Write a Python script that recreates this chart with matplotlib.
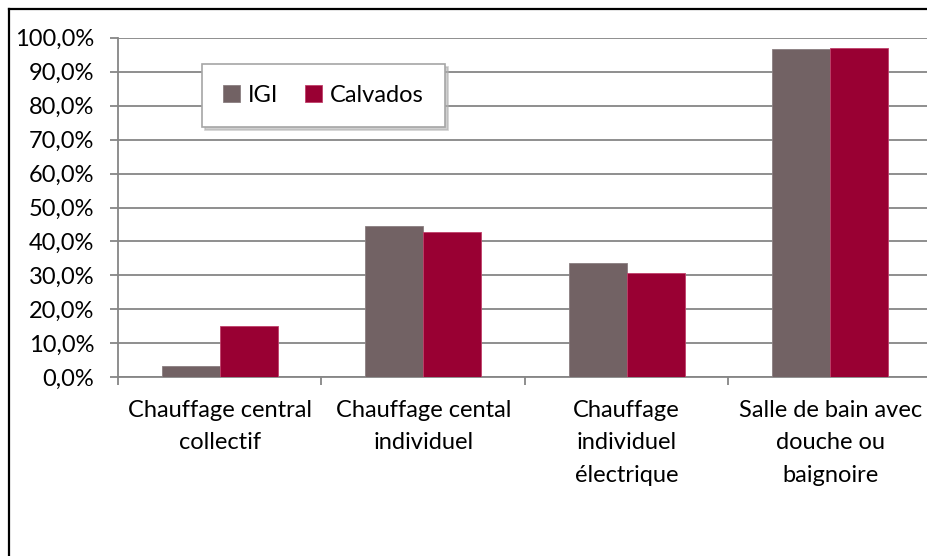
import matplotlib
matplotlib.use("Agg")
import matplotlib.pyplot as plt
from matplotlib.lines import Line2D
from matplotlib.ticker import FixedLocator, FuncFormatter
import numpy as np

categories = ["Chauffage central\ncollectif", "Chauffage cental\nindividuel",
              "Chauffage\nindividuel\nélectrique", "Salle de bain avec\ndouche ou\nbaignoire"]
igi = [3.4, 44.6, 33.7, 96.6]
calvados = [15.2, 42.9, 30.6, 96.9]
series_names = ["IGI", "Calvados"]
yticks = [0, 10, 20, 30, 40, 50, 60, 70, 80, 90, 100]

plt.rcParams['font.family'] = ['Lato', 'DejaVu Sans']

W, H = 928, 556
fig = plt.figure(figsize=(W / 100, H / 100), dpi=100)
fig.patch.set_facecolor("white")

def px(x0, y0, x1, y1):
    return [x0 / W, 1 - y1 / H, (x1 - x0) / W, (y1 - y0) / H]

ax = fig.add_axes(px(118, 37.7, 928, 377.3))
x = np.arange(len(categories))
bw = 0.285
grid_c = "#868686"
ax.bar(x - bw / 2, igi, bw, color="#726264", edgecolor="#8a7e80", linewidth=0.6,
       label=series_names[0], zorder=3)
ax.bar(x + bw / 2, calvados, bw, color="#990033", edgecolor="#c0406a", linewidth=0.6,
       label=series_names[1], zorder=3)

ax.set_xlim(-0.5, -0.5 + 810 / 203.5)
ax.set_ylim(0, 100)
ax.set_yticks(yticks)
ax.yaxis.set_major_formatter(FuncFormatter(lambda v, p: f"{v:.1f}%".replace(".", ",")))
ax.yaxis.grid(True, color=grid_c, linewidth=1.3, zorder=0)
ax.set_axisbelow(True)

fs = 17
ax.set_xticks(x)
ax.set_xticklabels(categories, fontsize=fs, linespacing=1.7, va="top")
ax.xaxis.set_minor_locator(FixedLocator(np.arange(-0.5, 3.6, 1.0)))
ax.tick_params(axis="x", which="major", length=0, pad=16)
ax.tick_params(axis="x", which="minor", length=6, width=1.3, color=grid_c, direction="out")
ax.tick_params(axis="y", length=6, width=1.3, color=grid_c, labelsize=fs, pad=11)

for s in ["top", "right"]:
    ax.spines[s].set_visible(False)
for s in ["left", "bottom"]:
    ax.spines[s].set_color(grid_c)
    ax.spines[s].set_linewidth(1.3)

leg = fig.legend(loc="center", bbox_to_anchor=(202 / W, 1 - 128 / H, 243 / W, 65 / H),
                 mode="expand", ncol=2, fontsize=fs, frameon=True, fancybox=False,
                 shadow={"color": "#b0b0b0", "alpha": 0.6}, handlelength=0.7, handleheight=0.7,
                 handletextpad=0.35, columnspacing=1.0, borderpad=0.9, borderaxespad=0)
leg.get_frame().set_edgecolor("#a6a6a6")
leg.get_frame().set_linewidth(1.2)

# outer chart border (top and left visible)
fig.add_artist(Line2D([9.5 / W, 9.5 / W], [0, 1 - 9 / H], transform=fig.transFigure,
                      color="black", linewidth=1.6))
fig.add_artist(Line2D([9.5 / W, 1], [1 - 9 / H, 1 - 9 / H], transform=fig.transFigure,
                      color="black", linewidth=1.6))

fig.savefig("out.png", dpi=100, facecolor="white")
